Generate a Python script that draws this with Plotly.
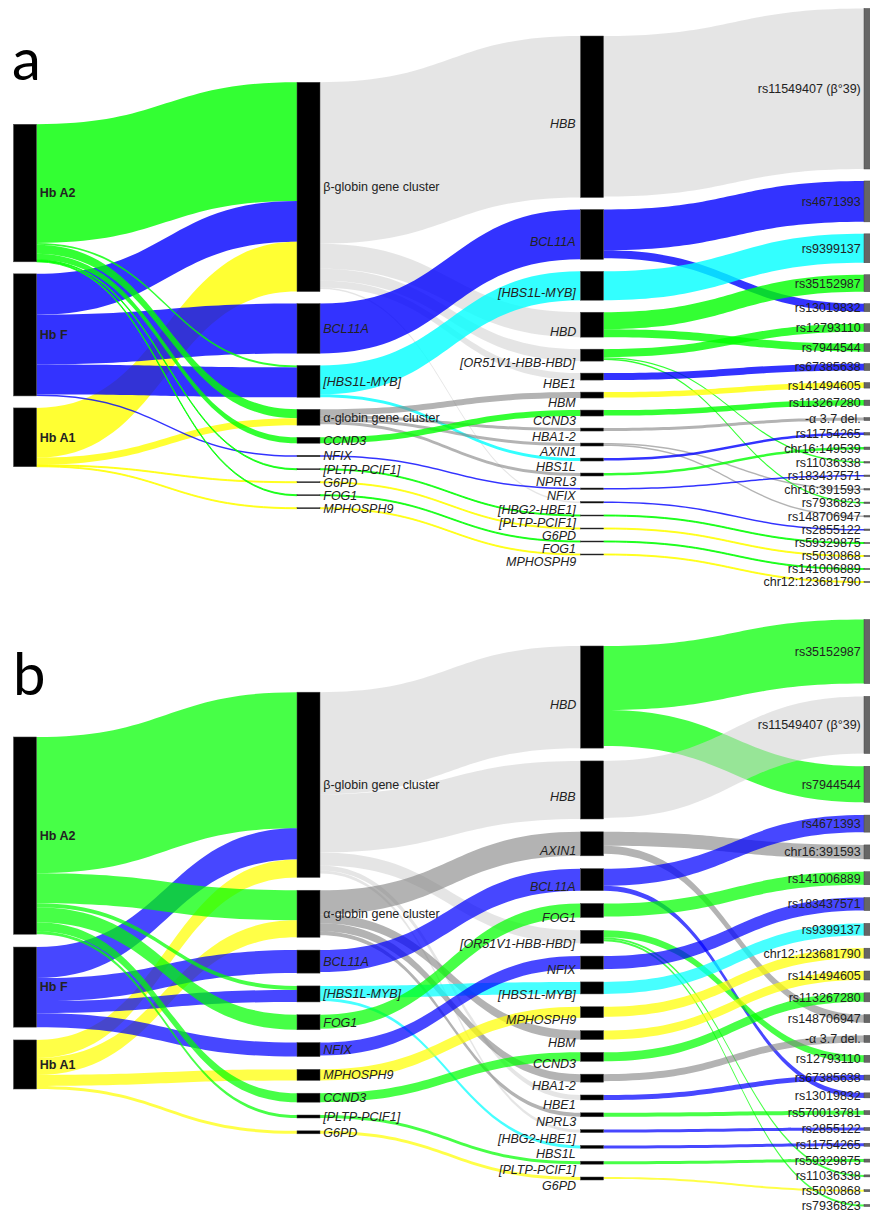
import plotly.graph_objects as go

# ---------------- data : chart a ----------------
A_COL1 = ["Hb A2", "Hb F", "Hb A1"]
A_COL2 = ["β-globin gene cluster", "BCL11A", "[HBS1L-MYB]", "α-globin gene cluster",
          "CCND3", "NFIX", "[PLTP-PCIF1]", "G6PD", "FOG1", "MPHOSPH9"]
A_COL3 = ["HBB", "BCL11A", "[HBS1L-MYB]", "HBD", "[OR51V1-HBB-HBD]", "HBE1", "HBM",
          "CCND3", "HBA1-2", "AXIN1", "HBS1L", "NPRL3", "NFIX", "[HBG2-HBE1]",
          "[PLTP-PCIF1]", "G6PD", "FOG1", "MPHOSPH9"]
A_COL4 = ["rs11549407 (β°39)", "rs4671393", "rs9399137", "rs35152987", "rs13019832",
          "rs12793110", "rs7944544", "rs67385638", "rs141494605", "rs113267280",
          "-α 3.7 del.", "rs11754265", "chr16:149539", "rs11036338", "rs183437571",
          "chr16:391593", "rs7936823", "rs148706947", "rs2855122", "rs59329875",
          "rs5030868", "rs141006889", "chr12:123681790"]

# (source, target, value, group)
A_LINKS_12 = [
    ("Hb A2", "β-globin gene cluster", 119, "A2"), ("Hb F", "β-globin gene cluster", 41, "F"),
    ("Hb A1", "β-globin gene cluster", 50, "A1"), ("Hb F", "BCL11A", 50, "F"),
    ("Hb A2", "[HBS1L-MYB]", 2, "A2"), ("Hb F", "[HBS1L-MYB]", 30, "F"),
    ("Hb A2", "α-globin gene cluster", 9, "A2"), ("Hb A1", "α-globin gene cluster", 7, "A1"),
    ("Hb A2", "CCND3", 6, "A2"), ("Hb F", "NFIX", 1.5, "F"),
    ("Hb A2", "[PLTP-PCIF1]", 1, "A2"), ("Hb A1", "G6PD", 1, "A1"),
    ("Hb A2", "FOG1", 1, "A2"), ("Hb A1", "MPHOSPH9", 1, "A1"),
]
A_LINKS_23 = [
    ("β-globin gene cluster", "HBB", 162, "beta"), ("β-globin gene cluster", "HBD", 25, "beta"),
    ("β-globin gene cluster", "[OR51V1-HBB-HBD]", 12, "beta"),
    ("β-globin gene cluster", "HBE1", 7, "beta"),
    ("β-globin gene cluster", "[HBG2-HBE1]", 1.5, "beta"),
    ("BCL11A", "BCL11A", 50, "F"),
    ("[HBS1L-MYB]", "[HBS1L-MYB]", 29, "cyan"), ("[HBS1L-MYB]", "HBS1L", 3, "cyan"),
    ("α-globin gene cluster", "HBM", 6, "alpha"), ("α-globin gene cluster", "HBA1-2", 3, "alpha"),
    ("α-globin gene cluster", "AXIN1", 3, "alpha"), ("α-globin gene cluster", "NPRL3", 3, "alpha"),
    ("CCND3", "CCND3", 6, "A2"), ("NFIX", "NFIX", 1.5, "F"),
    ("[PLTP-PCIF1]", "[PLTP-PCIF1]", 1, "A2"), ("G6PD", "G6PD", 1, "A1"),
    ("FOG1", "FOG1", 1, "A2"), ("MPHOSPH9", "MPHOSPH9", 1, "A1"),
]
A_LINKS_34 = [
    ("HBB", "rs11549407 (β°39)", 161, "beta"),
    ("BCL11A", "rs4671393", 41, "F"), ("BCL11A", "rs13019832", 8, "F"),
    ("[HBS1L-MYB]", "rs9399137", 29, "cyan"),
    ("HBD", "rs35152987", 17, "A2"), ("HBD", "rs7944544", 8, "A2"),
    ("[OR51V1-HBB-HBD]", "rs12793110", 8, "A2"), ("[OR51V1-HBB-HBD]", "rs11036338", 1.5, "A2"),
    ("[OR51V1-HBB-HBD]", "rs7936823", 1.5, "A2"),
    ("HBE1", "rs67385638", 7, "F"), ("HBM", "rs141494605", 5.5, "A1"),
    ("CCND3", "rs113267280", 5.5, "A2"), ("HBA1-2", "-α 3.7 del.", 3, "alpha"),
    ("AXIN1", "chr16:391593", 1.5, "alpha"), ("AXIN1", "rs148706947", 1.5, "alpha"),
    ("HBS1L", "rs11754265", 2.5, "F"), ("NPRL3", "chr16:149539", 2.5, "A2"),
    ("NFIX", "rs183437571", 1.5, "F"), ("[HBG2-HBE1]", "rs2855122", 1.5, "F"),
    ("[PLTP-PCIF1]", "rs59329875", 1, "A2"), ("G6PD", "rs5030868", 1, "A1"),
    ("FOG1", "rs141006889", 1, "A2"), ("MPHOSPH9", "chr12:123681790", 1, "A1"),
]

# ---------------- data : chart b ----------------
B_COL1 = ["Hb A2", "Hb F", "Hb A1"]
B_COL2 = ["β-globin gene cluster", "α-globin gene cluster", "BCL11A", "[HBS1L-MYB]",
          "FOG1", "NFIX", "MPHOSPH9", "CCND3", "[PLTP-PCIF1]", "G6PD"]
B_COL3 = ["HBD", "HBB", "AXIN1", "BCL11A", "FOG1", "[OR51V1-HBB-HBD]", "NFIX",
          "[HBS1L-MYB]", "MPHOSPH9", "HBM", "CCND3", "HBA1-2", "HBE1", "NPRL3",
          "[HBG2-HBE1]", "HBS1L", "[PLTP-PCIF1]", "G6PD"]
B_COL4 = ["rs35152987", "rs11549407 (β°39)", "rs7944544", "rs4671393", "chr16:391593",
          "rs141006889", "rs183437571", "rs9399137", "chr12:123681790", "rs141494605",
          "rs113267280", "rs148706947", "-α 3.7 del.", "rs12793110", "rs67385638",
          "rs13019832", "rs570013781", "rs2855122", "rs11754265", "rs59329875",
          "rs11036338", "rs5030868", "rs7936823"]

B_LINKS_12 = [
    ("Hb A2", "β-globin gene cluster", 136, "A2"), ("Hb F", "β-globin gene cluster", 31, "F"),
    ("Hb A1", "β-globin gene cluster", 18, "A1"),
    ("Hb A2", "α-globin gene cluster", 30, "A2"), ("Hb A1", "α-globin gene cluster", 17, "A1"),
    ("Hb F", "BCL11A", 23, "F"),
    ("Hb A2", "[HBS1L-MYB]", 4, "A2"), ("Hb F", "[HBS1L-MYB]", 12, "F"),
    ("Hb A2", "FOG1", 15, "A2"), ("Hb F", "NFIX", 14, "F"),
    ("Hb A1", "MPHOSPH9", 11, "A1"), ("Hb A2", "CCND3", 9, "A2"),
    ("Hb A2", "[PLTP-PCIF1]", 3, "A2"), ("Hb A1", "G6PD", 3, "A1"),
]
B_LINKS_23 = [
    ("β-globin gene cluster", "HBD", 102, "beta"), ("β-globin gene cluster", "HBB", 58, "beta"),
    ("β-globin gene cluster", "[OR51V1-HBB-HBD]", 13, "beta"),
    ("β-globin gene cluster", "HBE1", 5, "beta"),
    ("β-globin gene cluster", "[HBG2-HBE1]", 3, "beta"),
    ("α-globin gene cluster", "AXIN1", 24, "alpha"), ("α-globin gene cluster", "HBM", 9, "alpha"),
    ("α-globin gene cluster", "HBA1-2", 8, "alpha"), ("α-globin gene cluster", "NPRL3", 4, "alpha"),
    ("BCL11A", "BCL11A", 22, "F"),
    ("[HBS1L-MYB]", "[HBS1L-MYB]", 12, "cyan"), ("[HBS1L-MYB]", "HBS1L", 3, "cyan"),
    ("FOG1", "FOG1", 14, "A2"), ("NFIX", "NFIX", 13, "F"),
    ("MPHOSPH9", "MPHOSPH9", 11, "A1"), ("CCND3", "CCND3", 9, "A2"),
    ("[PLTP-PCIF1]", "[PLTP-PCIF1]", 3, "A2"), ("G6PD", "G6PD", 3, "A1"),
]
B_LINKS_34 = [
    ("HBD", "rs35152987", 64, "A2"), ("HBD", "rs7944544", 36, "A2"),
    ("HBB", "rs11549407 (β°39)", 57, "beta"),
    ("AXIN1", "chr16:391593", 14, "alpha"), ("AXIN1", "rs148706947", 8, "alpha"),
    ("BCL11A", "rs4671393", 17, "F"), ("BCL11A", "rs13019832", 5, "F"),
    ("FOG1", "rs141006889", 13, "A2"),
    ("[OR51V1-HBB-HBD]", "rs12793110", 7, "A2"), ("[OR51V1-HBB-HBD]", "rs11036338", 2, "A2"),
    ("[OR51V1-HBB-HBD]", "rs7936823", 2, "A2"),
    ("NFIX", "rs183437571", 13, "F"), ("[HBS1L-MYB]", "rs9399137", 12, "cyan"),
    ("MPHOSPH9", "chr12:123681790", 10, "A1"), ("HBM", "rs141494605", 9, "A1"),
    ("CCND3", "rs113267280", 9, "A2"), ("HBA1-2", "-α 3.7 del.", 7, "alpha"),
    ("HBE1", "rs67385638", 5, "F"), ("NPRL3", "rs570013781", 4, "A2"),
    ("[HBG2-HBE1]", "rs2855122", 3, "F"), ("HBS1L", "rs11754265", 3, "F"),
    ("[PLTP-PCIF1]", "rs59329875", 3, "A2"), ("G6PD", "rs5030868", 2, "A1"),
]

# ---------------- styles / layout ----------------
W, H = 878, 1210
THICK = 23
X_LEFT = 13          # visual left edge of the first column (px)
COL_STEP = 283.5     # distance between columns (px)
SHIFT = 7.5          # plotly's internal offset of the sankey drawing (px)
LABEL_GAP = 11       # gap between third-column labels and their nodes (px)
FONT = "Liberation Sans, Arial, sans-serif"
FSIZE = 12.5


def group_colors(alpha):
    return {
        "A2": f"rgba(0,255,0,{alpha})",
        "F": f"rgba(0,0,255,{alpha})",
        "A1": f"rgba(255,255,0,{alpha})",
        "cyan": f"rgba(0,255,255,{alpha})",
        "beta": "rgba(211,211,211,0.58)",
        "alpha": "rgba(128,128,128,0.6)",
    }


def fmt(label, col):
    if col == 0:
        return f"<b>{label}</b>"
    if col == 1:
        return label if "gene cluster" in label else f"<i>{label}</i>"
    if col == 2:
        return f"<i>{label}</i>"
    return label


def build(cols, stages, top_px, bottom_px, alpha, pad):
    ids = {}
    labels, node_cols = [], []
    for c, col in enumerate(cols):
        for lab in col:
            ids[(c, lab)] = len(labels)
            labels.append("" if c == 2 else fmt(lab, c))
            node_cols.append("#666666" if c == 3 else "black")
    src, tgt, val, lcol = [], [], [], []
    cmap = group_colors(alpha)
    for c, stage in enumerate(stages):
        for s, t, v, g in stage:
            src.append(ids[(c, s)])
            tgt.append(ids[(c + 1, t)])
            val.append(v)
            lcol.append(cmap[g])
    n = len(labels)
    vin = [0.0] * n
    vout = [0.0] * n
    for s, t, v in zip(src, tgt, val):
        vout[s] += v
        vin[t] += v
    nval = [max(a, b) for a, b in zip(vin, vout)]

    h = bottom_px - top_px
    dom_x0 = X_LEFT - SHIFT
    dom_w = W - dom_x0
    ky = min((h - (len(col) - 1) * pad) / sum(nval[ids[(c, l)]] for l in col)
             for c, col in enumerate(cols))
    xs, ys = [0.0] * n, [0.0] * n
    side_labels = []
    for c, col in enumerate(cols):
        total = sum(nval[ids[(c, l)]] * ky for l in col) + (len(col) - 1) * pad
        y = (h - total) / 2
        for l in col:
            i = ids[(c, l)]
            hh = nval[i] * ky
            ys[i] = max((y + hh / 2) / h, 1e-4)
            xs[i] = (THICK / 2 + c * COL_STEP) / dom_w
            if c == 2:
                side_labels.append((fmt(l, c), X_LEFT + c * COL_STEP - LABEL_GAP,
                                    top_px + y + hh / 2))
            y += hh + pad

    trace = go.Sankey(
        arrangement="fixed",
        domain=dict(x=[dom_x0 / W, 1.0],
                    y=[1 - (bottom_px - SHIFT) / H, 1 - (top_px - SHIFT) / H]),
        node=dict(label=labels, color=node_cols, pad=pad, thickness=THICK,
                  x=xs, y=ys, line=dict(color="#444", width=0.5)),
        link=dict(source=src, target=tgt, value=val, color=lcol),
        textfont=dict(family=FONT, size=FSIZE, color="#222", shadow="none"),
    )
    return trace, side_labels


fig = go.Figure()
ta, la = build([A_COL1, A_COL2, A_COL3, A_COL4],
               [A_LINKS_12, A_LINKS_23, A_LINKS_34], 8, 582, 0.8, 12)
tb, lb = build([B_COL1, B_COL2, B_COL3, B_COL4],
               [B_LINKS_12, B_LINKS_23, B_LINKS_34], 619, 1206, 0.72, 12.8)
fig.add_trace(ta)
fig.add_trace(tb)

for txt, xpx, ypx in la + lb:
    fig.add_annotation(text=txt, xref="paper", yref="paper", x=xpx / W, y=1 - ypx / H,
                       xanchor="right", yanchor="middle", showarrow=False, borderpad=0,
                       font=dict(family=FONT, size=FSIZE, color="#222"))

for txt, xpx, ypx in (("a", 2, 50), ("b", 3, 664)):
    fig.add_annotation(text=txt, xref="paper", yref="paper", x=xpx / W, y=1 - ypx / H,
                       xanchor="left", yanchor="middle", showarrow=False,
                       font=dict(family="Lato, Carlito, sans-serif", size=58, color="black"))

fig.update_layout(width=W, height=H, margin=dict(l=0, r=0, t=0, b=0),
                  paper_bgcolor="white", plot_bgcolor="white")
fig.write_html("out.html")
